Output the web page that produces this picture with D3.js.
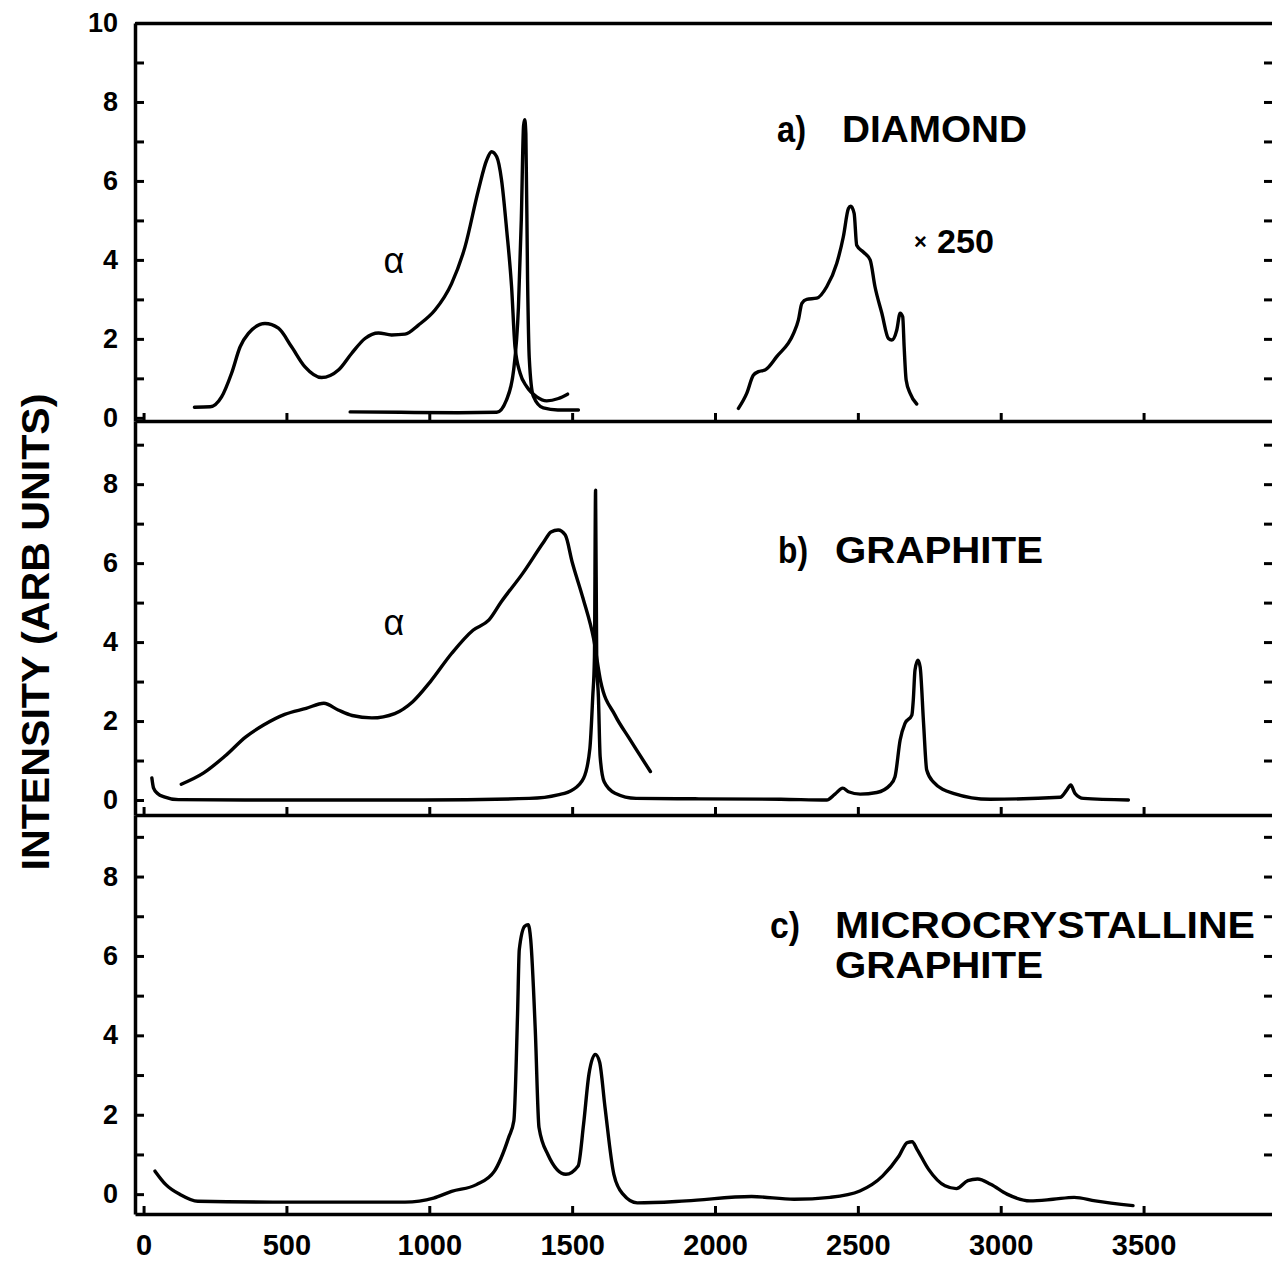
<!DOCTYPE html>
<html>
<head>
<meta charset="utf-8">
<script src="https://cdn.jsdelivr.net/npm/d3@7.9.0/dist/d3.min.js"></script>
<style>
  html, body { margin: 0; padding: 0; background: #fff; }
  svg { display: block; }
  text { font-family: "Liberation Sans", Arial, Helvetica, sans-serif; fill: #000; }
</style>
</head>
<body>
<svg id="chart" width="1272" height="1262"></svg>
<script>
// Raman shift ticks (cm-1)
const xTicks = [0, 500, 1000, 1500, 2000, 2500, 3000, 3500];

// a) diamond: broad amorphous (alpha) band
const diamondAlphaX = [178, 233, 273, 308, 338, 367, 425, 472, 518, 565, 623, 682, 728, 775, 822, 868, 915, 962, 1020, 1078, 1125, 1172, 1201, 1218, 1236, 1253, 1271, 1288, 1300, 1318, 1341, 1376, 1411, 1452, 1484];
const diamondAlphaY = [0.27, 0.28, 0.53, 1.13, 1.80, 2.14, 2.39, 2.27, 1.80, 1.29, 1.02, 1.21, 1.63, 2.01, 2.15, 2.10, 2.12, 2.35, 2.73, 3.40, 4.33, 5.77, 6.53, 6.74, 6.61, 6.02, 4.75, 3.32, 1.80, 1.13, 0.79, 0.53, 0.43, 0.49, 0.60];

// a) diamond: sharp first-order line
const diamondLineX = [723, 900, 1100, 1236, 1270, 1295, 1312, 1322, 1330, 1334, 1338, 1344, 1350, 1364, 1399, 1450, 1522];
const diamondLineY = [0.15, 0.14, 0.13, 0.14, 0.45, 1.2, 2.8, 5.0, 7.4, 7.55, 7.2, 3.5, 1.5, 0.55, 0.25, 0.2, 0.2];

// a) diamond: second order, x250
const diamond2ndX = [2082, 2111, 2134, 2152, 2175, 2216, 2275, 2292, 2304, 2321, 2356, 2391, 2426, 2449, 2467, 2475, 2487, 2496, 2519, 2543, 2560, 2584, 2607, 2619, 2636, 2648, 2657, 2662, 2669, 2683, 2706];
const diamond2ndY = [0.24, 0.62, 1.08, 1.17, 1.21, 1.55, 2.14, 2.48, 2.90, 3.00, 3.03, 3.32, 3.91, 4.58, 5.30, 5.36, 5.18, 4.37, 4.20, 4.0, 3.32, 2.65, 2.01, 1.97, 2.22, 2.65, 2.56, 1.80, 0.96, 0.62, 0.35];

// b) graphite: broad alpha band
const graphiteAlphaX = [132, 209, 283, 358, 420, 494, 569, 631, 681, 730, 799, 879, 942, 1004, 1078, 1153, 1209, 1252, 1327, 1401, 1426, 1451, 1476, 1500, 1538, 1575, 1600, 1650, 1700, 1774];
const graphiteAlphaY = [0.40, 0.68, 1.10, 1.60, 1.90, 2.17, 2.32, 2.45, 2.28, 2.14, 2.08, 2.19, 2.49, 3.00, 3.71, 4.30, 4.56, 5.02, 5.74, 6.54, 6.79, 6.84, 6.71, 6.03, 5.11, 4.09, 3.0, 2.15, 1.56, 0.72];

// b) graphite: crystalline spectrum
const graphiteX = [29, 35, 50, 72, 122, 360, 980, 1350, 1450, 1500, 1540, 1562, 1572, 1578, 1582, 1586, 1592, 1598, 1612, 1650, 1724, 1930, 2230, 2391, 2420, 2447, 2467, 2508, 2566, 2613, 2630, 2648, 2665, 2689, 2694, 2700, 2710, 2718, 2730, 2741, 2764, 2834, 2963, 3208, 3231, 3245, 3260, 3290, 3447];
const graphiteY = [0.56, 0.30, 0.16, 0.08, 0.01, 0, 0, 0.04, 0.13, 0.25, 0.55, 1.3, 2.6, 3.6, 7.85, 3.5, 2.6, 1.1, 0.46, 0.17, 0.04, 0.03, 0.02, 0, 0.15, 0.30, 0.21, 0.15, 0.19, 0.38, 0.59, 1.52, 1.94, 2.15, 2.53, 3.29, 3.54, 3.37, 1.94, 0.76, 0.46, 0.17, 0.02, 0.07, 0.25, 0.38, 0.17, 0.04, 0];

// c) microcrystalline graphite
const microX = [40, 78, 128, 190, 453, 915, 1015, 1078, 1165, 1228, 1278, 1296, 1309, 1315, 1334, 1346, 1355, 1371, 1384, 1415, 1478, 1521, 1540, 1559, 1581, 1596, 1615, 1646, 1678, 1728, 1899, 2128, 2277, 2403, 2507, 2587, 2644, 2673, 2690, 2707, 2747, 2805, 2845, 2885, 2919, 2965, 3022, 3102, 3183, 3257, 3331, 3463];
const microY = [0.58, 0.24, -0.01, -0.18, -0.2, -0.2, -0.1, 0.07, 0.24, 0.58, 1.43, 1.85, 4.55, 6.16, 6.75, 6.79, 6.41, 4.13, 1.68, 1.0, 0.50, 0.71, 1.76, 3.03, 3.52, 3.33, 2.19, 0.50, 0, -0.22, -0.17, -0.06, -0.13, -0.08, 0.08, 0.46, 0.96, 1.30, 1.32, 1.13, 0.63, 0.21, 0.14, 0.34, 0.38, 0.25, 0, -0.17, -0.13, -0.08, -0.17, -0.29];

const svg = d3.select('#chart');
const x = d3.scaleLinear().domain([-30, 3960]).range([135, 1275]);

const panels = [
  { top: 23, bottom: 421, domain: [-0.08, 10], maxTick: 10, labels: false },
  { top: 421, bottom: 815, domain: [-0.38, 9.6], maxTick: 9, labels: false },
  { top: 815, bottom: 1214, domain: [-0.5, 9.55], maxTick: 9, labels: true }
];
panels.forEach(p => {
  p.y = d3.scaleLinear().domain(p.domain).range([p.bottom, p.top]);
});

const curves = [
  { panel: 0, xs: diamondAlphaX, ys: diamondAlphaY },
  { panel: 0, xs: diamondLineX, ys: diamondLineY },
  { panel: 0, xs: diamond2ndX, ys: diamond2ndY },
  { panel: 1, xs: graphiteAlphaX, ys: graphiteAlphaY },
  { panel: 1, xs: graphiteX, ys: graphiteY },
  { panel: 2, xs: microX, ys: microY }
];

function styleAxis(g, fontSize) {
  g.selectAll('path.domain').attr('stroke-width', 3.5).attr('stroke', '#000');
  g.selectAll('.tick line').attr('stroke-width', 3).attr('stroke', '#000');
  g.selectAll('text')
    .attr('font-family', '"Liberation Sans", Arial, Helvetica, sans-serif')
    .attr('font-size', fontSize)
    .attr('font-weight', 'bold')
    .attr('fill', '#000');
  g.attr('font-family', null).attr('font-size', null);
}

// top border
svg.append('g')
  .attr('transform', `translate(0,${panels[0].top})`)
  .call(d3.axisTop(x).tickValues([]).tickSizeOuter(0))
  .call(g => styleAxis(g, 27));

panels.forEach(p => {
  // left axis with inward ticks
  svg.append('g')
    .attr('transform', `translate(${x.range()[0]},0)`)
    .call(d3.axisLeft(p.y)
      .tickValues(d3.range(0, p.maxTick + 1))
      .tickSize(-9)
      .tickSizeOuter(0)
      .tickPadding(17)
      .tickFormat(d => d % 2 ? '' : d))
    .call(g => styleAxis(g, 27));

  // right side ticks
  svg.append('g')
    .attr('transform', `translate(1272,0)`)
    .call(d3.axisRight(p.y)
      .tickValues(d3.range(1, p.maxTick + 1))
      .tickSize(-8)
      .tickFormat(''))
    .call(g => g.select('path.domain').remove())
    .call(g => styleAxis(g, 27));

  // bottom axis
  svg.append('g')
    .attr('transform', `translate(0,${p.bottom})`)
    .call(d3.axisBottom(x)
      .tickValues(xTicks)
      .tickSize(-8)
      .tickSizeOuter(0)
      .tickPadding(20)
      .tickFormat(p.labels ? d => d : ''))
    .call(g => styleAxis(g, 29));
});

// spectra
curves.forEach(c => {
  const y = panels[c.panel].y;
  const line = d3.line()
    .x(d => x(d[0]))
    .y(d => y(d[1]))
    .curve(d3.curveMonotoneX);
  svg.append('path')
    .datum(d3.zip(c.xs, c.ys))
    .attr('d', line)
    .attr('fill', 'none')
    .attr('stroke', '#000')
    .attr('stroke-width', 3.4)
    .attr('stroke-linejoin', 'round')
    .attr('stroke-linecap', 'round');
});

// annotations
function label(txt, px, py, size, opts = {}) {
  const t = svg.append('text')
    .attr('x', px)
    .attr('y', py)
    .attr('font-size', size)
    .attr('font-weight', opts.weight || 'bold')
    .text(txt);
  if (opts.anchor) t.attr('text-anchor', opts.anchor);
  if (opts.len) t.attr('textLength', opts.len).attr('lengthAdjust', 'spacingAndGlyphs');
  return t;
}

label('a)', 777, 142, 37, { len: 29 });
label('DIAMOND', 842, 142, 37, { len: 185 });
label('×', 914, 249, 22);
label('250', 937, 253, 33, { len: 57 });
label('α', 394, 273, 36, { anchor: 'middle', weight: 'normal' });

label('b)', 778, 563, 37, { len: 30 });
label('GRAPHITE', 835, 563, 37, { len: 208 });
label('α', 394, 635, 36, { anchor: 'middle', weight: 'normal' });

label('c)', 770, 938, 37, { len: 30 });
label('MICROCRYSTALLINE', 835, 938, 37, { len: 420 });
label('GRAPHITE', 835, 978, 37, { len: 208 });

// y axis title
svg.append('text')
  .attr('transform', 'translate(49,632) rotate(-90)')
  .attr('text-anchor', 'middle')
  .attr('font-size', 39)
  .attr('font-weight', 'bold')
  .attr('textLength', 477)
  .attr('lengthAdjust', 'spacingAndGlyphs')
  .text('INTENSITY (ARB UNITS)');
</script>
</body>
</html>
